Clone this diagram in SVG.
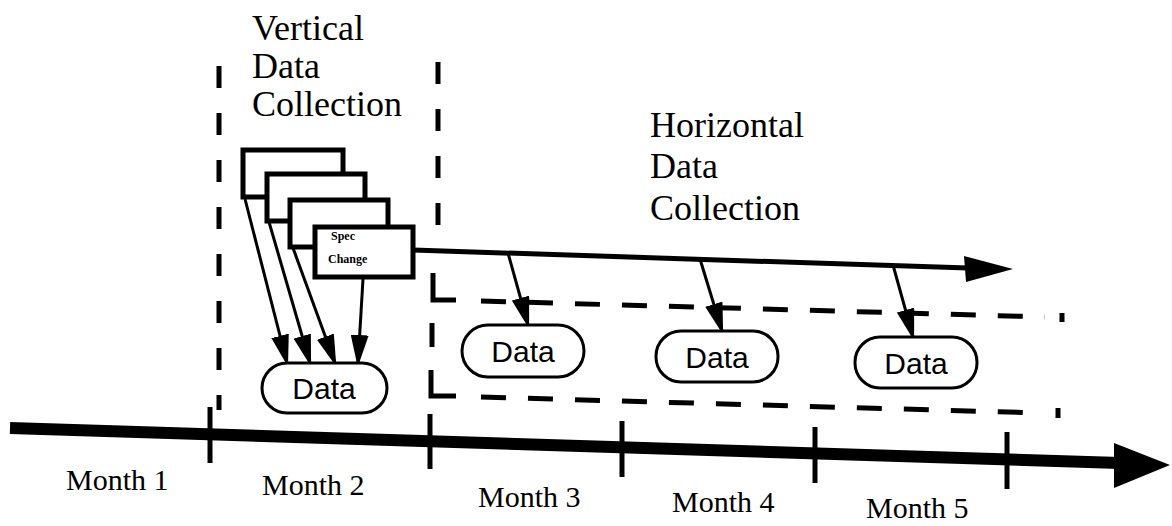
<svg xmlns="http://www.w3.org/2000/svg" width="1172" height="526" viewBox="0 0 1172 526">
<defs>
<style>
.serif{font-family:"Liberation Serif","Times New Roman",serif;fill:#000}
.sans{font-family:"Liberation Sans",Arial,sans-serif;fill:#000}
.title{font-size:36px}
.month{font-size:30px}
.dtext{font-size:30px;text-anchor:middle}
.dash{fill:none;stroke:#000;stroke-width:5;stroke-dasharray:22 25}
.hdash{fill:none;stroke:#000;stroke-width:5;stroke-dasharray:25 22}
.solid{fill:none;stroke:#000;stroke-width:5}
.box{fill:#fff;stroke:#000;stroke-width:5}
.pill{fill:#fff;stroke:#000;stroke-width:3}
.conn{fill:none;stroke:#000;stroke-width:3}
.tick{stroke:#000;stroke-width:5}
</style>
<marker id="ah" markerUnits="userSpaceOnUse" markerWidth="32" markerHeight="18" refX="28" refY="9" orient="auto" viewBox="0 0 32 18">
<path d="M0,0 L32,9 L0,18 z" fill="#000"/>
</marker>
</defs>
<rect width="1172" height="526" fill="#fff"/>

<g id="timeline">
<line x1="10" y1="428" x2="1120" y2="463" stroke="#000" stroke-width="12"/>
<polygon points="1114,443 1170,465 1114,488" fill="#000"/>
<line class="tick" x1="210" y1="407" x2="210" y2="463"/>
<line class="tick" x1="430" y1="414" x2="430" y2="469"/>
<line class="tick" x1="622" y1="421" x2="622" y2="477"/>
<line class="tick" x1="815" y1="427" x2="815" y2="483"/>
<line class="tick" x1="1007" y1="432" x2="1007" y2="489"/>
<text class="serif month" x="66" y="490">Month 1</text>
<text class="serif month" x="262" y="495">Month 2</text>
<text class="serif month" x="478" y="507">Month 3</text>
<text class="serif month" x="672" y="512">Month 4</text>
<text class="serif month" x="866" y="518">Month 5</text>
</g>

<g id="vertical-region">
<line class="dash" x1="219" y1="66" x2="219" y2="410"/>
<line class="dash" x1="438" y1="62" x2="438" y2="248"/>
<text class="serif title" x="252" y="40">Vertical</text>
<text class="serif title" x="252" y="78">Data</text>
<text class="serif title" x="252" y="116">Collection</text>
</g>

<g id="horizontal-region">
<path class="solid" d="M433,273 L433,300 L456,300"/>
<line class="hdash" x1="481" y1="301" x2="1045" y2="317"/>
<line class="solid" x1="1062" y1="313" x2="1062" y2="322"/>
<line class="solid" x1="432" y1="323" x2="432" y2="347"/>
<path class="solid" d="M431,370 L431,396 L456,396"/>
<line class="hdash" x1="481" y1="397" x2="1040" y2="413"/>
<line class="solid" x1="1058" y1="408" x2="1058" y2="418"/>
<text class="serif title" x="650" y="137">Horizontal</text>
<text class="serif title" x="650" y="178">Data</text>
<text class="serif title" x="650" y="220">Collection</text>
</g>

<g id="connectors">
<line class="conn" x1="245" y1="199" x2="287" y2="363" marker-end="url(#ah)"/>
<line class="conn" x1="269" y1="222" x2="310" y2="363" marker-end="url(#ah)"/>
<line class="conn" x1="293" y1="248" x2="335" y2="363" marker-end="url(#ah)"/>
<line class="conn" x1="363" y1="279" x2="358" y2="363" marker-end="url(#ah)"/>
<line x1="413" y1="250" x2="968" y2="268" stroke="#000" stroke-width="5"/>
<polygon points="964,256 1013,269 966,282" fill="#000"/>
<line class="conn" x1="508" y1="253" x2="528" y2="325" marker-end="url(#ah)"/>
<line class="conn" x1="700" y1="259" x2="722" y2="331" marker-end="url(#ah)"/>
<line class="conn" x1="893" y1="265" x2="913" y2="337" marker-end="url(#ah)"/>
</g>

<g id="spec-box-1"><rect class="box" x="243" y="150" width="100" height="47"/></g>
<g id="spec-box-2"><rect class="box" x="267" y="174" width="98" height="47"/></g>
<g id="spec-box-3"><rect class="box" x="290" y="200" width="98" height="47"/></g>
<g id="spec-change">
<rect class="box" x="315" y="227" width="98" height="50"/>
<text class="serif" x="331" y="240" font-size="12" font-weight="bold">Spec</text>
<text class="serif" x="328" y="263" font-size="12" font-weight="bold">Change</text>
</g>

<g id="data-vertical">
<rect class="pill" x="262" y="363" width="125" height="50" rx="25"/>
<text class="sans dtext" x="324" y="399">Data</text>
</g>
<g id="data-h1">
<rect class="pill" x="462" y="325" width="122" height="52" rx="26"/>
<text class="sans dtext" x="523" y="362">Data</text>
</g>
<g id="data-h2">
<rect class="pill" x="656" y="331" width="122" height="51" rx="25"/>
<text class="sans dtext" x="717" y="368">Data</text>
</g>
<g id="data-h3">
<rect class="pill" x="855" y="337" width="122" height="51" rx="25"/>
<text class="sans dtext" x="916" y="374">Data</text>
</g>
</svg>
